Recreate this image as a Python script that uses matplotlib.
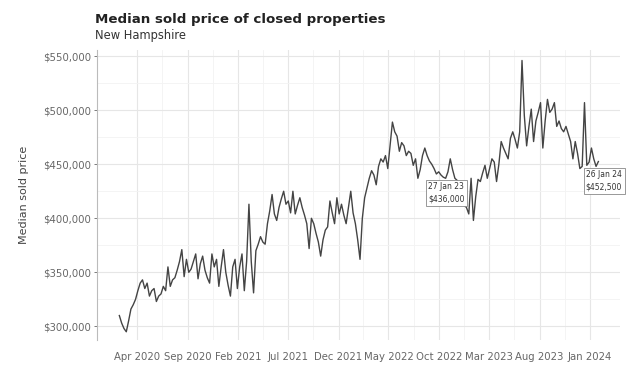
import matplotlib.pyplot as plt
import matplotlib.ticker as mticker
import pandas as pd

# weekly median sold price, $k
start_date = '2020-02-07'
prices_k = [
    310, 303, 298, 295, 305, 316, 320, 325, 333, 340, 343, 335, 340, 328, 333, 335,
    323, 328, 330, 337, 333, 355, 337, 343, 345, 352, 360, 371, 346, 362, 350, 353,
    360, 367, 344, 358, 365, 352, 345, 340, 367, 355, 362, 337, 355, 371, 350, 338,
    328, 355, 362, 335, 355, 367, 333, 360, 413, 360, 331, 370, 376, 383, 378, 376,
    395, 407, 422, 404, 398, 410, 418, 425, 413, 416, 405, 425, 404, 412, 419, 410,
    403, 395, 372, 400, 395, 386, 378, 365, 380, 389, 392, 416, 405, 395, 419, 404,
    413, 403, 395, 410, 425, 405, 395, 380, 362, 400, 419, 428, 437, 444, 440, 431,
    448, 455, 452, 458, 446, 467, 489, 480, 476, 462, 470, 467, 458, 462, 460, 449,
    455, 437, 445, 458, 465, 458, 453, 450, 446, 441, 443, 440, 438, 437, 443, 455,
    445, 437, 435, 431, 420, 412, 410, 404, 437, 398, 420, 436, 434, 442, 449, 437,
    446, 455, 452, 434, 450, 471, 465, 460, 455, 474, 480, 473, 465, 480, 546, 495,
    467, 485, 501, 471, 490, 498, 507, 465, 490, 510, 498, 501, 507, 485, 490, 483,
    480, 485, 478, 471, 455, 471, 460, 446, 448, 507, 449, 452, 465, 455, 448, 452.5,
]
tick_dates = pd.date_range('2020-04-01', periods=10, freq='5MS')
marked = [155, len(prices_k) - 1]   # points with a label box

dates = pd.date_range(start_date, periods=len(prices_k), freq='7D')
prices = [p * 1000 for p in prices_k]

plt.rcParams['font.family'] = 'DejaVu Sans'
fig = plt.figure(figsize=(6.29, 3.68), dpi=100)
ax = fig.add_axes([0.154, 0.075, 0.832, 0.79])

ax.plot(dates, prices, color='#444444', lw=1.0)

ax.set_ylim(287000, 556000)
ax.set_xlim(pd.Timestamp('2019-12-01'), pd.Timestamp('2024-04-01'))
ax.yaxis.set_major_locator(mticker.MultipleLocator(50000))
ax.yaxis.set_minor_locator(mticker.MultipleLocator(25000))
ax.yaxis.set_major_formatter(mticker.FuncFormatter(lambda v, p: f'${v:,.0f}'))
ax.set_xticks(tick_dates)
ax.set_xticklabels([d.strftime('%b %Y') for d in tick_dates])
mid_ticks = tick_dates[:-1] + (tick_dates[1:] - tick_dates[:-1]) / 2
ax.set_xticks(mid_ticks, minor=True)

ax.grid(True, which='major', color='#e6e6e6', lw=0.8)
ax.grid(True, which='minor', color='#f3f3f3', lw=0.6)
for s in ['top', 'right', 'bottom']:
    ax.spines[s].set_visible(False)
ax.spines['left'].set_color('#bbbbbb')
ax.tick_params(axis='y', labelsize=7.3, colors='#666666', length=2, width=0.6, pad=2)
ax.tick_params(axis='x', labelsize=7.3, colors='#666666', length=0, pad=8)
ax.tick_params(which='minor', length=0)
ax.set_ylabel('Median sold price', fontsize=8, color='#444444', labelpad=10)

offsets = {marked[0]: (-36, -2), marked[1]: (-9, -6)}
for i in marked:
    txt = dates[i].strftime('%d %b %y') + '\n' + f'${prices[i]:,.0f}'
    ax.annotate(txt, (dates[i], prices[i]), xytext=offsets[i], textcoords='offset points',
                ha='left', va='top', fontsize=5.5, color='#333333', linespacing=1.5,
                bbox=dict(boxstyle='square,pad=0.3', fc='white', ec='#888888', lw=0.6))

fig.text(0.151, 0.937, 'Median sold price of closed properties', fontsize=9.6,
         fontweight='bold', color='#222222')
fig.text(0.151, 0.895, 'New Hampshire', fontsize=8.3, color='#333333')

fig.savefig('out.png', dpi=100)
